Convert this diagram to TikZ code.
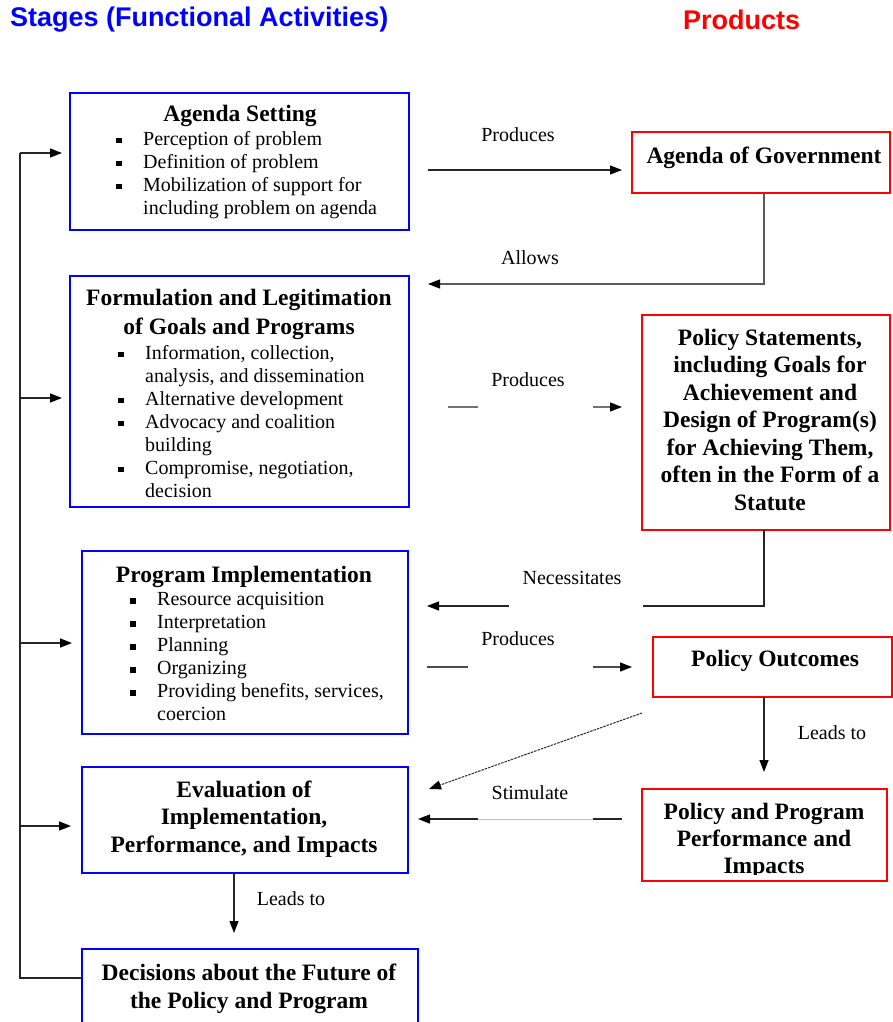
\documentclass[tikz,border=0pt]{standalone}
\usepackage{fontspec}
\setmainfont{Liberation Serif}
\newfontfamily\headfont{Liberation Sans}
\usetikzlibrary{arrows.meta,calc}
\newcommand{\bul}{\makebox[27pt][l]{\rule[1.8pt]{5.5pt}{5.5pt}}}
\newcommand{\ind}{\hspace*{27pt}}
\begin{document}
\begin{tikzpicture}[x=1pt,y=-1pt,
  bbox/.style={draw=blue,line width=1.6pt,inner sep=0,outer sep=0,anchor=north west},
  rbox/.style={draw=red,line width=1.6pt,inner sep=0,outer sep=0,anchor=north west},
  ttl/.style={font=\fontsize{23.5}{28}\selectfont\bfseries,align=center,inner sep=0},
  body/.style={font=\fontsize{20}{23}\selectfont,align=left,inner sep=0,anchor=north west},
  lbl/.style={font=\fontsize{20}{24}\selectfont,inner sep=0},
  head/.style={font=\headfont\fontsize{27}{31}\selectfont\bfseries,inner sep=0,anchor=west},
  conn/.style={draw=black!85,line width=1.3pt},
  arr/.style={conn,-{Triangle[length=12pt,width=9pt,color=black]}},
]
\useasboundingbox (0,0) rectangle (893,1022);
\clip (0,0) rectangle (893,1022);

% headings
\node[head,text=blue] (hstages) at (10,20) {Stages (Functional Activities)};
\node[head,text=red] (hprod) at (683,20) {Products};

% stage boxes
\node[bbox,minimum width=339pt,minimum height=137pt] (as) at (70,93) {};
\node[bbox,minimum width=339pt,minimum height=231pt] (fm) at (70,276) {};
\node[bbox,minimum width=326pt,minimum height=183pt] (pi) at (82,551) {};
\node[bbox,minimum width=326pt,minimum height=106pt] (ev) at (82,767) {};
\node[bbox,minimum width=336pt,minimum height=100pt] (dc) at (82,949) {};

% product boxes
\node[rbox,minimum width=258pt,minimum height=61pt] (ag) at (632,132) {};
\node[rbox,minimum width=248pt,minimum height=215pt] (ps) at (642,315) {};
\node[rbox,minimum width=239pt,minimum height=60pt] (po) at (653,637) {};
\node[rbox,minimum width=245pt,minimum height=92pt] (pp) at (642,789) {};

% stage texts
\node[ttl] (t1) at (240,116) {Agenda Setting};
\node[body] (b1) at (116,131) {\bul Perception of problem\\\bul Definition of problem\\\bul Mobilization of support for\\\ind including problem on agenda};
\node[ttl,font=\fontsize{23.5}{29}\selectfont\bfseries] (t2) at (239,314) {Formulation and Legitimation\\of Goals and Programs};
\node[body] (b2) at (118,345) {\bul Information, collection,\\\ind analysis, and dissemination\\\bul Alternative development\\\bul Advocacy and coalition\\\ind building\\\bul Compromise, negotiation,\\\ind decision};
\node[ttl] (t3) at (244,577) {Program Implementation};
\node[body] (b3) at (130,592) {\bul Resource acquisition\\\bul Interpretation\\\bul Planning\\\bul Organizing\\\bul Providing benefits, services,\\\ind coercion};
\node[ttl,font=\fontsize{23.5}{27.5}\selectfont\bfseries] (t4) at (244,819) {Evaluation of\\Implementation,\\Performance, and Impacts};
\node[ttl] (t5) at (249,989) {Decisions about the Future of\\the Policy and Program};

% product texts
\node[ttl] (r1) at (764,158) {Agenda of Government};
\node[ttl,font=\fontsize{23.5}{27.5}\selectfont\bfseries] (r2) at (770,419.5) {Policy Statements,\\including Goals for\\Achievement and\\Design of Program(s)\\for Achieving Them,\\often in the Form of a\\Statute};
\node[ttl] (r3) at (775,661) {Policy Outcomes};
\begin{scope}
  \clip (pp.north west) rectangle ($(pp.south east)+(0,-7)$);
  \node[ttl,font=\fontsize{23.5}{27}\selectfont\bfseries] (r4) at (764,841) {Policy and Program\\Performance and\\Impacts};
\end{scope}

% labels
\node[lbl] (lp1) at (518,135) {Produces};
\node[lbl] (lal) at (530,258) {Allows};
\node[lbl] (lp2) at (528,380) {Produces};
\node[lbl] (lne) at (572,578) {Necessitates};
\node[lbl] (lp3) at (518,639) {Produces};
\node[lbl] (llr) at (832,733) {Leads to};
\node[lbl] (lst) at (530,793) {Stimulate};
\node[lbl] (lll) at (291,899) {Leads to};

% helper coordinates
\coordinate (L0) at (20,978);
\coordinate (L1) at (20,153);
\coordinate (L2) at (20,398);
\coordinate (L3) at (20,643);
\coordinate (L4) at (20,826);
\coordinate (pa) at (0,170);
\coordinate (al) at (764,284);
\coordinate (pb) at (0,407);
\coordinate (ne) at (764,606);
\coordinate (pc) at (0,667);
\coordinate (st) at (0,819);
\coordinate (s1) at (593,819);
\coordinate (s2) at (478,819);
\coordinate (lt) at (234,0);

% feedback loop
\draw[conn,line width=1.6pt] (dc.west |- L0) -- (L0) -- (L1);
\draw[arr,line width=1.6pt,shorten >=8pt] (L1) -- (as.west |- L1);
\draw[arr,line width=1.6pt,shorten >=8pt] (L2) -- (fm.west |- L2);
\draw[arr,line width=1.6pt,shorten >=10pt] (L3) -- (pi.west |- L3);
\draw[arr,line width=1.6pt,shorten >=11pt] (L4) -- (ev.west |- L4);

% connectors
\draw[arr,shorten <=19pt,shorten >=10pt] (as.east |- pa) -- (ag.west |- pa);
\draw[arr,draw=black!65,shorten >=19pt] (ag.south -| al) -- (al) -- (fm.east |- al);
\draw[arr,draw=black!55,shorten <=39pt,shorten >=20pt,dash pattern=on 30pt off 115pt on 80pt] (fm.east |- pb) -- (ps.west |- pb);
\draw[arr,shorten >=19pt,dash pattern=on 197pt off 134pt on 200pt] (ps.south -| ne) -- (ne) -- (pi.east |- ne);
\draw[arr,draw=black!70,shorten <=19pt,shorten >=21pt,dash pattern=on 41pt off 125pt on 80pt] (pi.east |- pc) -- (po.west |- pc);
\draw[arr,line width=1pt,dash pattern=on 2.5pt off 1pt] ($(po.south west)+(-11,16)$) -- ($(ev.north east)+(21,22)$);
\draw[arr,shorten >=17pt] (po.south -| ne) -- (pp.north -| ne);
\draw[arr,shorten <=20pt,shorten >=10pt,dash pattern=on 29pt off 115pt on 100pt] (pp.west |- st) -- (ev.east |- st);
\draw[black!25,line width=0.6pt] (s1) -- (s2);
\draw[arr,shorten >=16pt] (ev.south -| lt) -- (dc.north -| lt);
\end{tikzpicture}
\end{document}
